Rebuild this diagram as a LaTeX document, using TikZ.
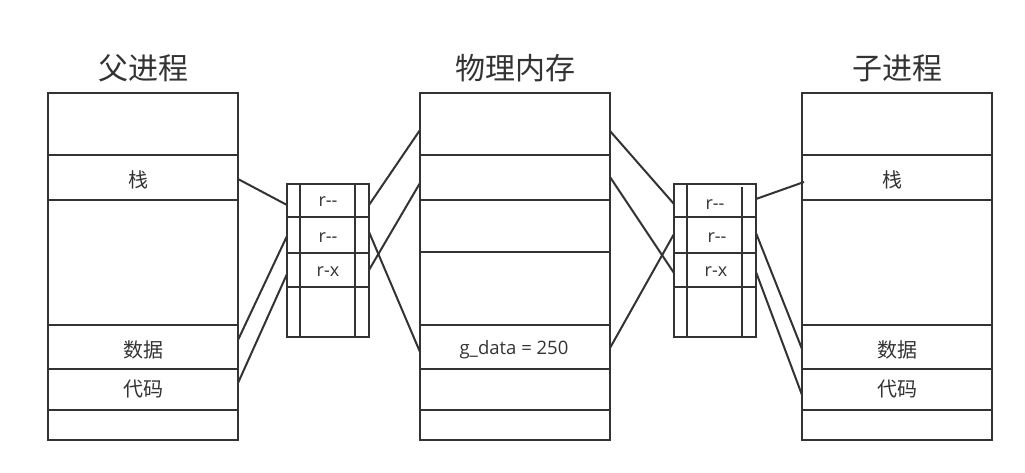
\documentclass[tikz,border=0pt]{standalone}
\usepackage{fontspec}
\setmainfont{Noto Sans CJK SC}
\newfontfamily\latinfont{Open Sans}
\usetikzlibrary{calc}
\definecolor{ink}{HTML}{333333}
\begin{document}
\begin{tikzpicture}[x=1pt,y=-1pt,
  line/.style={draw=ink,line width=2pt},
  cellbox/.style={line,inner sep=0pt,text=ink,font=\fontsize{20}{22}\selectfont},
  ptcell/.style={line,inner sep=0pt,text=ink,font=\latinfont\fontsize{16}{18}\selectfont},
  lbl/.style={text=ink,inner sep=0pt},
  ptlbl/.style={lbl,font=\latinfont\fontsize{18}{20}\selectfont},
  title/.style={text=ink,font=\fontsize{30}{32}\selectfont,inner sep=0pt},
  conn/.style={line}]
\useasboundingbox (0,0) rectangle (1025,473);
% cell macro: name, x1, y1, x2, y2
\newcommand\mkcell[5]{\node[cellbox,minimum width=#4-#2,minimum height=#5-#3] (#1) at ({(#2+#4)/2},{(#3+#5)/2}) {};}
\newcommand\mkpt[5]{\node[ptcell,minimum width=#4-#2,minimum height=#5-#3] (#1) at ({(#2+#4)/2},{(#3+#5)/2}) {};}
% titles
\node[title] (tp) at (143,68) {父进程};
\node[title] (tm) at (515,68) {物理内存};
\node[title] (tc) at (897,68) {子进程};
% parent process
\mkcell{p0}{48}{93}{238}{155}
\mkcell{pstack}{48}{155}{238}{200}
\mkcell{p2}{48}{200}{238}{325}
\mkcell{pdata}{48}{325}{238}{369}
\mkcell{pcode}{48}{369}{238}{410}
\mkcell{p5}{48}{410}{238}{440}
\node[lbl,font=\fontsize{20}{22}\selectfont] (tps) at ($(pstack.center)+(-5,2)$) {栈};
\node[lbl,font=\fontsize{20}{22}\selectfont] (tpd) at ($(pdata.center)+(0,3)$) {数据};
\node[lbl,font=\fontsize{20}{22}\selectfont] (tpc) at ($(pcode.center)+(0,0)$) {代码};
% physical memory
\mkcell{m0}{420}{93}{610}{155}
\mkcell{m1}{420}{155}{610}{200}
\mkcell{m2}{420}{200}{610}{252}
\mkcell{m3}{420}{252}{610}{325}
\mkcell{mdata}{420}{325}{610}{369}
\mkcell{m5}{420}{369}{610}{410}
\mkcell{m6}{420}{410}{610}{440}
\node[lbl,font=\latinfont\fontsize{18.5}{20}\selectfont] (tmd) at ($(mdata.center)+(-1,3)$) {g\_data = 250};
% child process
\mkcell{c0}{802}{93}{992}{155}
\mkcell{cstack}{802}{155}{992}{200}
\mkcell{c2}{802}{200}{992}{325}
\mkcell{cdata}{802}{325}{992}{369}
\mkcell{ccode}{802}{369}{992}{410}
\mkcell{c5}{802}{410}{992}{440}
\node[lbl,font=\fontsize{20}{22}\selectfont] (tcs) at ($(cstack.center)+(-5,2)$) {栈};
\node[lbl,font=\fontsize{20}{22}\selectfont] (tcd) at ($(cdata.center)+(0,3)$) {数据};
\node[lbl,font=\fontsize{20}{22}\selectfont] (tcc) at ($(ccode.center)+(0,0)$) {代码};
% left page table
\mkpt{l0}{287}{184}{369}{217}
\mkpt{l1}{287}{217}{369}{253}
\mkpt{l2}{287}{253}{369}{287}
\mkpt{l3}{287}{287}{369}{337}
\draw[line] (300,184) -- (300,337) (355,184) -- (355,337);
\node[ptlbl] (tl0) at ($(l0.center)+(0,1)$) {r-{}-};
\node[ptlbl] (tl1) at ($(l1.center)+(0,3)$) {r-{}-};
\node[ptlbl] (tl2) at ($(l2.center)+(0,2)$) {r-x};
% right page table
\mkpt{r0}{674}{184}{756}{217}
\mkpt{r1}{674}{217}{756}{253}
\mkpt{r2}{674}{253}{756}{287}
\mkpt{r3}{674}{287}{756}{337}
\draw[line] (687,184) -- (687,337) (742,187) -- (742,337);
\node[ptlbl] (tr0) at ($(r0.center)+(0,4)$) {r-{}-};
\node[ptlbl] (tr1) at ($(r1.center)+(2,3)$) {r-{}-};
\node[ptlbl] (tr2) at ($(r2.center)+(1,2)$) {r-x};
% connector endpoints
\coordinate (ps) at (238,179);
\coordinate (pd) at (238,340);
\coordinate (pc) at (238,383);
\coordinate (l0w) at (287,205);
\coordinate (l1w) at (287,236);
\coordinate (l2w) at (287,274);
\coordinate (l0e) at (369,205);
\coordinate (l1e) at (369,232);
\coordinate (l2e) at (369,270);
\coordinate (ma) at (420,130);
\coordinate (mb) at (420,183);
\coordinate (mc) at (420,352);
\coordinate (mA) at (610,131);
\coordinate (mB) at (610,177);
\coordinate (mC) at (610,348);
\coordinate (r0w) at (674,204);
\coordinate (r1w) at (674,234);
\coordinate (r2w) at (674,273);
\coordinate (r0e) at (756,199);
\coordinate (r1e) at (756,233);
\coordinate (r2e) at (756,272);
\coordinate (cs) at (804,182);
\coordinate (cd) at (802,349);
\coordinate (cc) at (802,395);
% connectors
\draw[conn] (ps) -- (l0w);
\draw[conn] (pd) -- (l1w);
\draw[conn] (pc) -- (l2w);
\draw[conn] (l0e) -- (ma);
\draw[conn] (l2e) -- (mb);
\draw[conn] (l1e) -- (mc);
\draw[conn] (mA) -- (r0w);
\draw[conn] (mB) -- (r2w);
\draw[conn] (mC) -- (r1w);
\draw[conn] (r0e) -- (cs);
\draw[conn] (r1e) -- (cd);
\draw[conn] (r2e) -- (cc);
\end{tikzpicture}
\end{document}
